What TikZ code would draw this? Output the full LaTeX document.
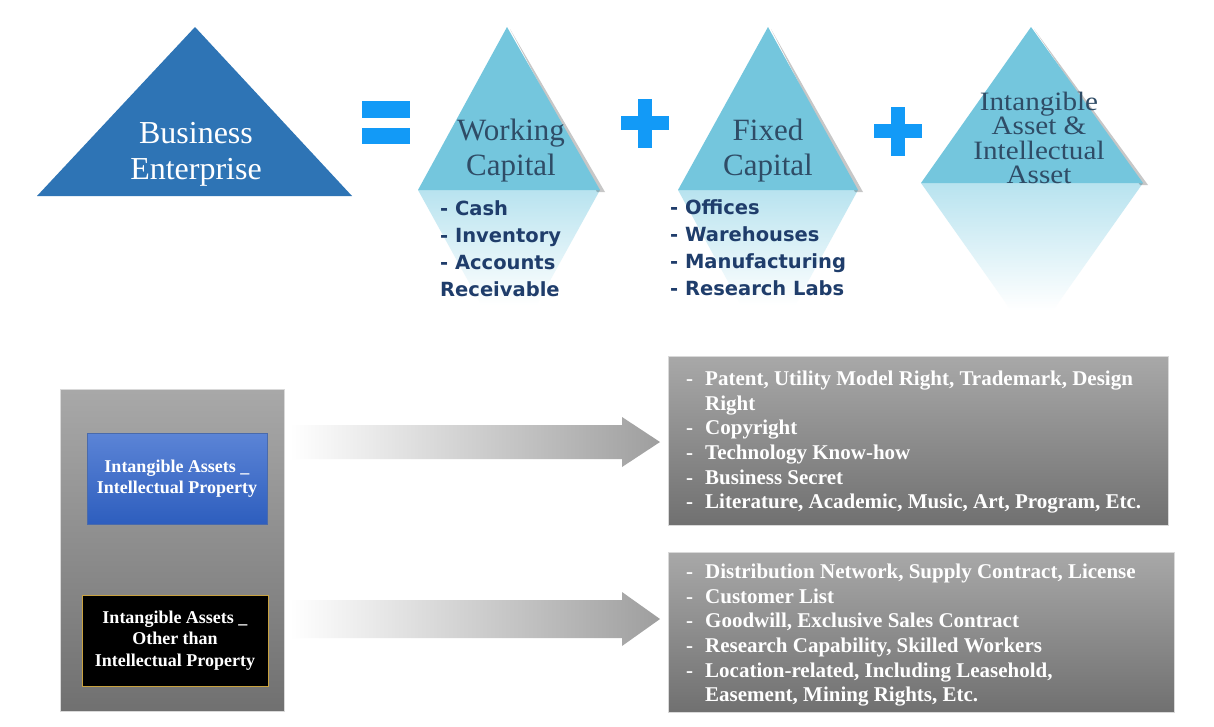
\documentclass[tikz,border=0pt]{standalone}
\usepackage{fontspec}
\setmainfont{Liberation Serif}
\newfontfamily\lsans{DejaVu Sans}
\newfontfamily\tallserif[FakeStretch=1.1]{Liberation Serif}
\usetikzlibrary{calc}
\definecolor{bizblue}{HTML}{2E74B5}
\definecolor{lblue}{HTML}{74C6DD}
\definecolor{refl}{HTML}{B8E3EF}
\definecolor{signblue}{HTML}{129AF7}
\definecolor{navy}{HTML}{1F3D6B}
\definecolor{slate}{HTML}{2F4C66}
\definecolor{gold}{HTML}{C9A23F}
\definecolor{ipblueA}{HTML}{5B84D6}
\definecolor{ipblueB}{HTML}{2E5EBE}
\tikzset{
  tri/.style={fill=lblue},
  trishadow/.style={fill=black,opacity=.22},
  reflshade/.style={top color=refl,middle color=refl!30!white,bottom color=white},
  ttl/.style={font=\fontsize{31}{35}\selectfont,text=slate,align=center,inner sep=0},
  lst/.style={font=\lsans\bfseries\fontsize{19.5}{27}\selectfont,text=navy,align=left,anchor=north west,inner sep=0},
  sign/.style={fill=signblue,draw=none},
  graybox/.style={top color=black!34,bottom color=black!56,draw=black!15,line width=.6pt},
  blist/.style={font=\bfseries\fontsize{21}{24.6}\selectfont,text=white,align=left,anchor=north west,inner sep=0},
  lbl/.style={font=\bfseries\fontsize{18}{21.5}\selectfont,text=white,align=center,inner sep=0},
  arrowshade/.style={left color=white,right color=black!38}
}
\newcommand{\dsh}{\makebox[19pt][l]{-}}
\begin{document}
\begin{tikzpicture}[x=1pt,y=-1pt]
\useasboundingbox (0,0) rectangle (1214,726);
\fill[white] (0,0) rectangle (1214,726);
% ---- Business Enterprise
\fill[bizblue] (195,27) -- (352,196) -- (37,196) -- cycle;
\node[font=\fontsize{32}{36}\selectfont,text=white,align=center,inner sep=0] (biz) at (196,154) {Business\\Enterprise};
% ---- equals
\fill[sign] (362,101) rectangle (410,118);
\fill[sign] (362,128) rectangle (410,144);
% ---- Working capital
\begin{scope}
\clip (418,190) -- (600,190) -- (509,355) -- cycle;
\shade[reflshade] (418,190) rectangle (600,305);
\end{scope}
\fill[trishadow] (510,29) -- (605,192) -- (597,192) -- cycle;
\fill[tri] (507,27) -- (600,190) -- (418,190) -- cycle;
\node[ttl] (wc) at (511,151) {Working\\Capital};
\node[lst] (wcl) at (440,200) {- Cash\\- Inventory\\- Accounts\\Receivable};
% ---- plus 1
\fill[sign] (621,116) rectangle (669,130);
\fill[sign] (638,99) rectangle (652,148);
% ---- Fixed capital
\begin{scope}
\clip (678,190) -- (858,190) -- (768,355) -- cycle;
\shade[reflshade] (678,190) rectangle (858,305);
\end{scope}
\fill[trishadow] (771,29) -- (863,192) -- (855,192) -- cycle;
\fill[tri] (768,27) -- (858,190) -- (678,190) -- cycle;
\node[ttl] (fc) at (768,151) {Fixed\\Capital};
\node[lst] (fcl) at (670,199) {- Offices\\- Warehouses\\- Manufacturing\\- Research Labs};
% ---- plus 2
\fill[sign] (874,124) rectangle (922,138);
\fill[sign] (891,107) rectangle (905,156);
% ---- Intangible
\begin{scope}
\clip (921,183) -- (1143,183) -- (1032,340) -- cycle;
\shade[reflshade] (921,183) rectangle (1143,310);
\end{scope}
\fill[trishadow] (1034,29) -- (1148,185) -- (1140,185) -- cycle;
\fill[tri] (1031,27) -- (1143,183) -- (921,183) -- cycle;
\node[font=\tallserif\fontsize{26.5}{24.5}\selectfont,text=slate,align=center,inner sep=0] (ia) at (1039,138) {Intangible\\Asset \&\\Intellectual\\Asset};
% ---- bottom left
\path[graybox] (60,389) rectangle (284,711);
\node[top color=ipblueA,bottom color=ipblueB,draw=ipblueA!80!black,line width=.5pt,minimum width=180pt,minimum height=91pt,inner sep=0] (ipbox) at (177,478.5) {};
\node[lbl] (ip) at (ipbox.center) {Intangible Assets \_\\Intellectual Property};
\node[fill=black,draw=gold,line width=1pt,minimum width=186pt,minimum height=91pt,inner sep=0] (otbox) at (175,640.5) {};
\node[lbl] (ot) at (otbox.center) {Intangible Assets \_\\Other than\\Intellectual Property};
% ---- right boxes
\path[graybox] (668,356) rectangle (1168,525);
\node[blist] (l1) at (686,371) {\dsh Patent, Utility Model Right, Trademark, Design\\\hspace*{19pt}Right\\\dsh Copyright\\\dsh Technology Know-how\\\dsh Business Secret\\\dsh Literature, Academic, Music, Art, Program, Etc.};
\path[graybox] (668,552) rectangle (1174,712);
\node[blist] (l2) at (686,564) {\dsh Distribution Network, Supply Contract, License\\\dsh Customer List\\\dsh Goodwill, Exclusive Sales Contract\\\dsh Research Capability, Skilled Workers\\\dsh Location-related, Including Leasehold,\\\hspace*{19pt}Easement, Mining Rights, Etc.};
% ---- arrows
\coordinate (a1s) at (290,442);
\coordinate (a1e) at (660,442);
\shade[arrowshade] ($(a1s)+(0,-17)$) -- ($(a1e)+(-38,-17)$) -- ($(a1e)+(-38,-25)$) -- (a1e) -- ($(a1e)+(-38,25)$) -- ($(a1e)+(-38,17)$) -- ($(a1s)+(0,17)$) -- cycle;
\coordinate (a2s) at (290,619);
\coordinate (a2e) at (660,619);
\shade[arrowshade] ($(a2s)+(0,-19)$) -- ($(a2e)+(-38,-19)$) -- ($(a2e)+(-38,-27)$) -- (a2e) -- ($(a2e)+(-38,27)$) -- ($(a2e)+(-38,19)$) -- ($(a2s)+(0,19)$) -- cycle;
\end{tikzpicture}
\end{document}
